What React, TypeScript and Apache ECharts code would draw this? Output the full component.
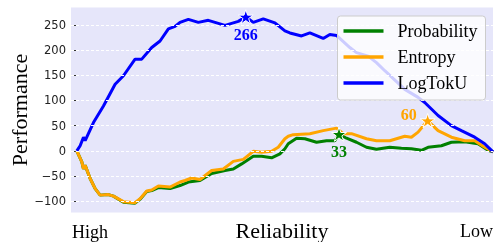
import React, { useEffect, useRef } from 'react';
import * as echarts from 'echarts';

// Reliability position (0 = High, 100 = Low)
const logTokUX = [0, 0.8, 1.6, 2.0, 4.0, 6.4, 9.2, 11.2, 14.0, 15.6, 18.0, 20.0, 22.0, 23.6, 24.8, 26.8, 29.2, 31.6, 35.6, 38.8, 40.6, 42.4, 44.8, 47.6, 50.0, 51.2, 54.0, 56.0, 59.2, 60.8, 62.4, 65.6, 67.2, 70.0, 72.0, 74.0, 78.8, 82.0, 83.6, 86.8, 90.0, 92.4, 95.6, 98.0, 100];
const logTokUY = [0, 10, 27, 20, 56, 89, 132, 149, 182, 182, 205, 218, 242, 247, 255, 261, 255, 259, 249, 257, 266, 255, 262, 254, 238, 234, 228, 234, 223, 231, 229, 205, 195, 188, 175, 159, 122, 106, 96, 70, 50, 40, 27, 14, -2];

const entropyX = [0, 1.2, 1.6, 2.0, 3.2, 4.4, 5.6, 7.6, 8.8, 11.2, 14.0, 15.2, 16.8, 18.0, 19.6, 22.4, 24.8, 26.0, 27.6, 29.6, 32.4, 35.2, 37.6, 40.0, 42.4, 44.4, 46.8, 48.4, 50.0, 50.8, 52.0, 56.0, 59.2, 62.4, 64.0, 66.0, 69.6, 72.0, 75.2, 78.8, 80.4, 82.0, 84.3, 86.8, 90.0, 93.2, 95.6, 98.0, 100];
const entropyY = [0, -22, -36, -29, -55, -75, -88, -87, -90, -101, -103, -95, -80, -78, -70, -72, -62, -59, -54, -57, -39, -36, -21, -17, -1, -3, -1, 7, 24, 29, 32, 34, 40, 45, 34, 34, 24, 20, 20, 29, 27, 37, 60, 40, 27, 20, 20, 7, -2];

const probabilityX = [0, 1.2, 1.6, 2.0, 3.2, 4.4, 5.6, 7.6, 8.8, 11.2, 14.0, 15.2, 16.8, 18.0, 19.6, 22.4, 24.8, 26.8, 29.6, 32.4, 35.6, 37.6, 39.6, 42.4, 44.4, 46.8, 48.8, 50.0, 50.8, 52.8, 54.8, 57.6, 60.0, 62.0, 63.0, 64.8, 67.2, 69.6, 72.0, 75.2, 78.0, 80.4, 82.8, 84.4, 87.6, 90.0, 93.2, 96.4, 98.8, 100];
const probabilityY = [0, -22, -36, -29, -55, -75, -88, -87, -90, -102, -104, -96, -81, -79, -73, -75, -69, -62, -59, -45, -39, -36, -26, -11, -11, -14, -6, 4, 14, 25, 24, 17, 20, 20, 33, 25, 17, 7, 3, 7, 5, 4, 1, 7, 10, 17, 18, 14, 1, -2];

const yTicks = [-100, -50, 0, 50, 100, 150, 200, 250];
const seriesNames = ['Probability', 'Entropy', 'LogTokU'];
const seriesColors = ['#008000', '#FFA500', '#0000FF'];

const starPath = 'path://M100,0L122.45,69.1L195.1,69.1L136.33,111.8L158.8,180.9L100,138.2L41.2,180.9L63.67,111.8L4.9,69.1L77.55,69.1Z';

function zip(xs: number[], ys: number[]) {
  return xs.map((x, i) => [x, ys[i]]);
}
function peak(xs: number[], ys: number[]) {
  const m = Math.max(...ys);
  const i = ys.indexOf(m);
  return { coord: [xs[i], ys[i]], value: m };
}

export default function App() {
  const ref = useRef<HTMLDivElement>(null);
  useEffect(() => {
    if (!ref.current) return;
    const chart = echarts.init(ref.current, undefined, { renderer: 'svg' });
    const datasets = [
      { xs: probabilityX, ys: probabilityY, offset: [0, 17] },
      { xs: entropyX, ys: entropyY, offset: [-19, -6] },
      { xs: logTokUX, ys: logTokUY, offset: [0, 18] },
    ];
    const lineSeries = datasets.map((d, k) => {
      const p = peak(d.xs, d.ys);
      return {
        name: seriesNames[k],
        type: 'line',
        data: zip(d.xs, d.ys),
        symbol: 'none',
        showSymbol: false,
        z: 2,
        lineStyle: { width: 3, color: seriesColors[k] },
        itemStyle: { color: seriesColors[k] },
        markPoint: {
          symbol: starPath,
          symbolSize: 15,
          symbolKeepAspect: true,
          silent: true,
          itemStyle: { color: seriesColors[k], borderColor: '#ffffff', borderWidth: 1 },
          label: {
            show: true,
            position: 'inside',
            offset: d.offset,
            formatter: () => String(p.value),
            color: seriesColors[k],
            fontFamily: 'Liberation Serif',
            fontWeight: 'bold',
            fontSize: 16,
          },
          data: [p],
        },
      };
    });
    chart.setOption({
      animation: false,
      grid: {
        left: 71, right: 2, top: 7.5, bottom: 29.5,
        show: true, backgroundColor: '#E6E6FA', borderWidth: 0,
      },
      xAxis: {
        type: 'value', min: -1.4, max: 100,
        axisLabel: { show: false }, axisTick: { show: false },
        axisLine: { show: false }, splitLine: { show: false },
      },
      yAxis: {
        type: 'value', min: -122.5, max: 284.5,
        axisLine: { show: false },
        splitLine: { show: false },
        axisTick: { show: true, length: 3.5, customValues: yTicks, lineStyle: { color: '#333' } },
        axisLabel: {
          customValues: yTicks,
          fontFamily: 'DejaVu Sans', fontSize: 11.5, color: '#222', margin: 5,
          formatter: (v: number) => String(v).replace('-', '\u2212'),
        },
      },
      legend: {
        data: seriesNames,
        orient: 'vertical',
        left: 337.5, top: 16,
        z: 10,
        icon: 'rect', itemWidth: 40, itemHeight: 3.5, itemGap: 4,
        padding: [4, 8, 6, 6],
        backgroundColor: 'rgba(255,255,255,0.8)',
        borderColor: '#cccccc', borderWidth: 1, borderRadius: 3,
        textStyle: { fontFamily: 'Liberation Serif', fontSize: 18, color: '#000', lineHeight: 22, padding: [0, 0, 0, 9] },
      },
      graphic: [
        { type: 'text', left: 72, top: 223, style: { text: 'High', font: '18px "Liberation Serif"', fill: '#000' } },
        { type: 'text', right: 2, top: 222, style: { text: 'Low', font: '18px "Liberation Serif"', fill: '#000' } },
        { type: 'text', x: 282, y: 230.5, style: { text: 'Reliability', font: '22px "Liberation Serif"', fill: '#000', align: 'center', verticalAlign: 'middle' } },
        { type: 'text', x: 19.5, y: 110, rotation: Math.PI / 2, style: { text: 'Performance', font: '22px "Liberation Serif"', fill: '#000', align: 'center', verticalAlign: 'middle' } },
      ],
      series: [
        {
          type: 'line', data: [], z: 1, silent: true,
          markLine: {
            silent: true, symbol: 'none', label: { show: false },
            lineStyle: { color: '#ffffff', type: [3, 2], width: 1 },
            emphasis: { disabled: true },
            data: yTicks.map((v) => ({ yAxis: v })),
          },
        },
        ...lineSeries,
      ],
    });
    return () => chart.dispose();
  }, []);
  return <div ref={ref} style={{ position: 'fixed', left: 0, top: 0, width: 495, height: 242 }} />;
}
